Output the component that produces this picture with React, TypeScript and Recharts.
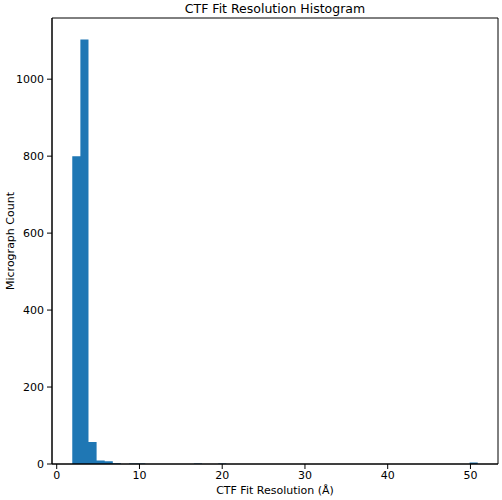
import { ComposedChart, Area, XAxis, YAxis, ReferenceArea } from 'recharts';

// histogram bin edges (Å) and micrograph counts per bin
const binEdges = [
  1.88, 2.86, 3.84, 4.82, 5.8, 6.78, 7.76, 8.74, 9.72, 10.7, 11.68, 12.66, 13.64,
  14.62, 15.6, 16.58, 17.56, 18.54, 19.52, 20.5, 21.48, 22.46, 23.44, 24.42, 25.4,
  26.38, 27.36, 28.34, 29.32, 30.3, 31.28, 32.26, 33.24, 34.22, 35.2, 36.18, 37.16,
  38.14, 39.12, 40.1, 41.08, 42.06, 43.04, 44.02, 45.0, 45.98, 46.96, 47.94, 48.92,
  49.9, 50.88,
];

const counts = [
  800, 1103, 57, 9, 7, 2, 0, 1, 1, 0, 0, 0, 0, 0, 0, 1, 0, 0, 1, 0, 0, 0, 0, 0, 0,
  0, 0, 0, 0, 0, 0, 0, 0, 0, 0, 0, 0, 0, 0, 0, 0, 0, 0, 0, 0, 0, 0, 0, 0, 4,
];

const xTicks = [0, 10, 20, 30, 40, 50];
const yTicks = [0, 200, 400, 600, 800, 1000];

const X_MIN = -0.57;
const X_MAX = 53.33;
const Y_MAX = 1159;

const FONT = '"DejaVu Sans", sans-serif';

// stepAfter points: each bin edge carries its bin's count, last edge closes at 0
const data = binEdges.map((edge, i) => ({
  x: edge,
  count: i < counts.length ? counts[i] : 0,
}));

function App() {
  return (
    <div style={{ position: 'absolute', left: 0, top: 0, width: 502, height: 500, background: '#fff' }}>
      <ComposedChart
        width={502}
        height={500}
        data={data}
        margin={{ top: 18, right: 4, bottom: 0, left: 0 }}
      >
        <XAxis
          dataKey="x"
          type="number"
          domain={[X_MIN, X_MAX]}
          ticks={xTicks}
          allowDataOverflow
          height={36}
          tickSize={5}
          tickMargin={2}
          stroke="#000"
          tick={{ fill: '#000', fontSize: 11, fontFamily: FONT }}
        />
        <YAxis
          type="number"
          domain={[0, Y_MAX]}
          ticks={yTicks}
          allowDataOverflow
          width={52}
          tickSize={5}
          tickMargin={3}
          stroke="#000"
          tick={{ fill: '#000', fontSize: 11, fontFamily: FONT }}
        />
        <Area
          type="stepAfter"
          dataKey="count"
          fill="#1f77b4"
          fillOpacity={1}
          stroke="none"
          isAnimationActive={false}
        />
        <ReferenceArea
          x1={X_MIN}
          x2={X_MAX}
          y1={0}
          y2={Y_MAX}
          fill="none"
          stroke="#000"
          strokeWidth={1}
          ifOverflow="visible"
        />
      </ComposedChart>
      <svg
        width={502}
        height={500}
        style={{ position: 'absolute', left: 0, top: 0, pointerEvents: 'none' }}
      >
        <text x={275} y={13} textAnchor="middle" fontSize={12.5} fontFamily={FONT} fill="#000">
          CTF Fit Resolution Histogram
        </text>
        <text x={275} y={494} textAnchor="middle" fontSize={11} fontFamily={FONT} fill="#000">
          CTF Fit Resolution (Å)
        </text>
        <text
          x={14}
          y={241}
          textAnchor="middle"
          fontSize={11}
          fontFamily={FONT}
          fill="#000"
          transform="rotate(-90 14 241)"
        >
          Micrograph Count
        </text>
      </svg>
    </div>
  );
}

export default App;
